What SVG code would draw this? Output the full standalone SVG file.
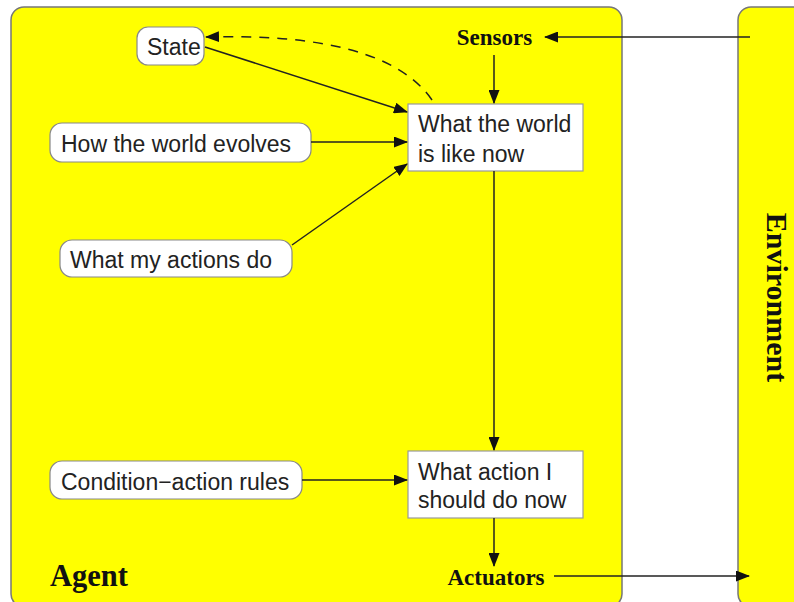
<svg xmlns="http://www.w3.org/2000/svg" width="794" height="602" viewBox="0 0 794 602">
<style>
.panel{fill:#ffff00;stroke:#777;stroke-width:1.5}
.rnode{fill:#fff;stroke:#888;stroke-width:1.2}
.box{fill:#fff;stroke:#999;stroke-width:1.2}
.t{font-family:"Liberation Sans",Arial,sans-serif;font-size:23px;fill:#222}
.s{font-family:"Liberation Serif","Times New Roman",serif;font-weight:bold;fill:#111}
.c{stroke:#222;stroke-width:1.5;fill:none}
</style>
<defs>
<marker id="ah" markerWidth="14" markerHeight="11" refX="13" refY="5.5" orient="auto" markerUnits="userSpaceOnUse">
<path d="M0,0 L14,5.5 L0,11 Z" fill="#111"/>
</marker>
</defs>
<rect width="794" height="602" fill="#fff"/>
<g id="agent">
<rect class="panel" x="11" y="7" width="611" height="600" rx="13"/>
<text class="s" x="50" y="586" font-size="30.5">Agent</text>
</g>
<g id="environment">
<rect class="panel" x="738" y="7" width="80" height="600" rx="13"/>
<text class="s" font-size="30" transform="translate(767,297.5) rotate(90)" text-anchor="middle">Environment</text>
</g>
<g id="sensors"><text class="s" x="494.5" y="45" font-size="23" text-anchor="middle">Sensors</text></g>
<g id="actuators"><text class="s" x="496" y="585" font-size="23" text-anchor="middle">Actuators</text></g>
<g id="state">
<rect class="rnode" x="137" y="27" width="67" height="38" rx="11"/>
<text class="t" x="147" y="55">State</text>
</g>
<g id="world-evolves">
<rect class="rnode" x="50" y="123" width="261" height="39" rx="12"/>
<text class="t" x="61" y="152">How the world evolves</text>
</g>
<g id="actions-do">
<rect class="rnode" x="60" y="240" width="232" height="37" rx="12"/>
<text class="t" x="70" y="268">What my actions do</text>
</g>
<g id="rules">
<rect class="rnode" x="50" y="461" width="252" height="38" rx="12"/>
<text class="t" x="61" y="490">Condition−action rules</text>
</g>
<g id="world-now">
<rect class="box" x="408" y="104" width="175" height="67"/>
<text class="t" x="418" y="132">What the world</text>
<text class="t" x="418" y="162">is like now</text>
</g>
<g id="action-now">
<rect class="box" x="408" y="451" width="175" height="67"/>
<text class="t" x="418" y="480">What action I</text>
<text class="t" x="418" y="508">should do now</text>
</g>
<g id="connectors">
<line class="c" x1="750" y1="37" x2="545" y2="37" marker-end="url(#ah)"/>
<line class="c" x1="494" y1="55" x2="494" y2="103" marker-end="url(#ah)"/>
<line class="c" x1="494" y1="171" x2="494" y2="450" marker-end="url(#ah)"/>
<line class="c" x1="494" y1="518" x2="494" y2="566" marker-end="url(#ah)"/>
<line class="c" x1="554" y1="576" x2="749" y2="576" marker-end="url(#ah)"/>
<line class="c" x1="205" y1="47" x2="407" y2="112" marker-end="url(#ah)"/>
<line class="c" x1="311" y1="142" x2="407" y2="142" marker-end="url(#ah)"/>
<line class="c" x1="292" y1="245" x2="407" y2="164" marker-end="url(#ah)"/>
<line class="c" x1="302" y1="480" x2="407" y2="480" marker-end="url(#ah)"/>
<path class="c" d="M432,100 Q385,32 206,37" stroke-dasharray="10,8" marker-end="url(#ah)"/>
</g>
</svg>
